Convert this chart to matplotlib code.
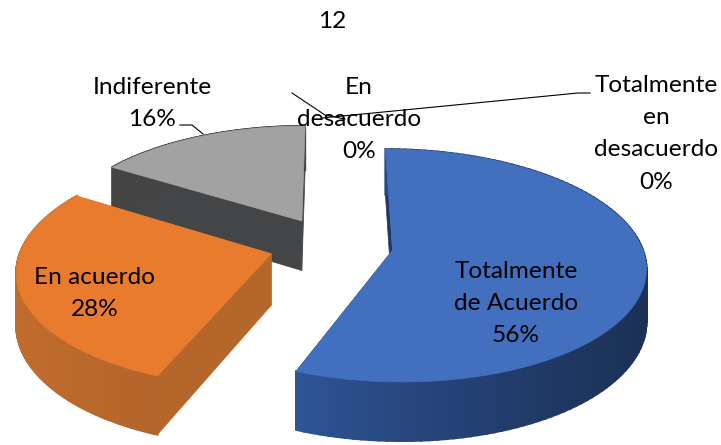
import numpy as np
import matplotlib
matplotlib.use("Agg")
from matplotlib import pyplot as plt
from matplotlib.patches import Polygon
from matplotlib.colors import to_rgb

plt.rcParams['font.family'] = ['Lato', 'DejaVu Sans']

title = "12"
categories = ["Totalmente\nde Acuerdo", "En acuerdo", "Indiferente", "En\ndesacuerdo", "Totalmente\nen\ndesacuerdo"]
values = [56, 28, 16, 0, 0]

top_colors = ["#4270BF", "#E97B2E", "#A2A2A2"]
side_left = ["#2F5597", "#C26C2C", "#444444"]
side_right = ["#1B3156", "#B4652B", "#444444"]
radial_colors = ["#1F3864", "#B5662A", "#434547"]

label_pos = [(516, 271), (95, 277), (152, 87), (359, 87), (656, 85)]
line_h = 32.5
font_px = 17.6

# perspective of the tilted pie, plane coords -> pixels
cx, cy, bx, ay, k, depth = 331, 245, 249, 113, 0.13, 51


def project(x, y):
    s = 1 / (1 + k * np.asarray(y))
    return cx + bx * np.asarray(x) * s, cy - ay * np.asarray(y) * s, s


def mix(c1, c2, t):
    return tuple((1 - t) * a + t * b for a, b in zip(to_rgb(c1), to_rgb(c2)))


fig = plt.figure(figsize=(7.21, 4.45), dpi=100)
ax = fig.add_axes([0, 0, 1, 1])
wedges, _ = ax.pie(values, explode=[0.25] * len(values), startangle=90, counterclock=False, radius=1)
for w in wedges:
    w.set_visible(False)
ax.set_aspect('auto')
ax.set_xlim(0, 721)
ax.set_ylim(445, 0)
ax.axis('off')

# far slices first
for i in [2, 1, 0]:
    w = wedges[i]
    t = np.radians(np.linspace(w.theta1, w.theta2, 120))
    ox, oy = w.center
    px = ox + w.r * np.cos(t)
    py = oy + w.r * np.sin(t)
    sx, sy, s = project(px, py)
    ax0, ay0, s0 = project(ox, oy)
    low = sy + depth * s
    low0 = ay0 + depth * s0
    # radial faces
    for j in (0, -1):
        ax.add_patch(Polygon([(ax0, ay0), (sx[j], sy[j]), (sx[j], low[j]), (ax0, low0)],
                             fc=radial_colors[i], ec=radial_colors[i], lw=0.5, zorder=i * -10 + 1))
    # outer wall, shaded from left to right
    xmin, xmax = sx.min(), sx.max()
    for j in range(len(t) - 1):
        c = mix(side_left[i], side_right[i], ((sx[j] - xmin) / (xmax - xmin)) ** 0.8)
        ax.add_patch(Polygon([(sx[j], sy[j]), (sx[j + 1], sy[j + 1]), (sx[j + 1], low[j + 1]), (sx[j], low[j])],
                             fc=c, ec=c, lw=1.5, zorder=i * -10 + 2))
    top = np.column_stack([np.r_[ax0, sx], np.r_[ay0, sy]])
    ax.add_patch(Polygon(top, fc=top_colors[i], ec=top_colors[i], lw=0.5, zorder=i * -10 + 3))

# leader lines
ax.plot([180, 192, 203], [125, 125, 134], color="black", lw=0.8, zorder=5)
ax.plot([292, 325, 345], [93, 115, 119], color="black", lw=0.8, zorder=5)
ax.plot([590, 578, 322], [93, 93, 118], color="black", lw=0.8, zorder=5)

ax.text(332, 21, title, ha='center', va='center', fontsize=font_px, color="black", zorder=6)
for name, v, (x, y) in zip(categories, values, label_pos):
    lines = name.split("\n") + ["%d%%" % v]
    for n, txt in enumerate(lines):
        ax.text(x, y + n * line_h, txt, ha='center', va='center', fontsize=font_px, color="black", zorder=6)

fig.savefig("out.png", dpi=100)
